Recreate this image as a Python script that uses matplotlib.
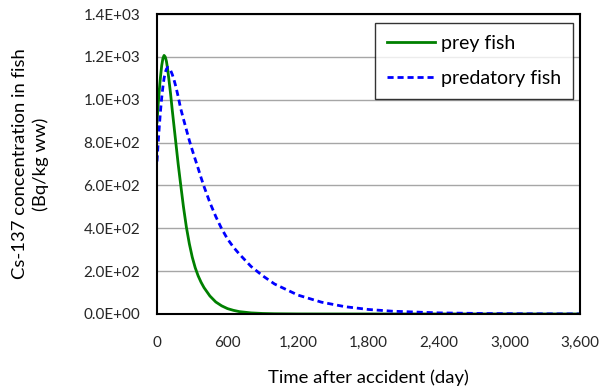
import matplotlib
matplotlib.use("Agg")
import matplotlib.pyplot as plt
from matplotlib.ticker import FuncFormatter, MultipleLocator

# data (day, Bq/kg ww)
days = [0, 10, 20, 30, 40, 50, 60, 70, 80, 90, 100, 115, 130, 145, 160, 180,
        200, 225, 250, 275, 300, 325, 350, 375, 400, 450, 500, 550, 600, 650,
        700, 800, 900, 1000, 1200, 1400, 1600, 1800, 2000, 2400, 2800, 3200,
        3600]
prey_fish = [896, 980, 1050, 1110, 1160, 1193, 1207, 1200, 1180, 1145, 1100,
             1030, 950, 875, 800, 700, 610, 500, 405, 328, 265, 216, 178, 148,
             123, 84, 56, 38, 25, 17, 11, 5, 2.3, 1, 0.2, 0.05, 0, 0, 0, 0, 0,
             0, 0]
predatory_fish = [712, 800, 880, 950, 1010, 1060, 1100, 1127, 1143, 1151, 1150,
                  1138, 1118, 1092, 1062, 1015, 962, 910, 860, 810, 765, 722,
                  680, 636, 595, 520, 455, 398, 350, 312, 280, 222, 178, 140,
                  88, 55, 34, 21, 13, 5, 2, 0.8, 0.3]

plt.rcParams['font.family'] = ['Lato', 'DejaVu Sans']

fig = plt.figure(figsize=(6, 3.91), dpi=100)
ax = fig.add_axes([0.2617, 0.197, 0.705, 0.767])

ax.plot(days, prey_fish, color='#008000', lw=2, label='prey fish')
ax.plot(days, predatory_fish, color='#0000ff', lw=2, ls=(0, (2.2, 1.4)),
        label='predatory fish')

ax.set_xlim(0, 3600)
ax.set_ylim(0, 1400)
ax.xaxis.set_major_locator(MultipleLocator(600))
ax.yaxis.set_major_locator(MultipleLocator(200))
ax.xaxis.set_major_formatter(FuncFormatter(lambda v, p: f"{v:,.0f}"))
ax.yaxis.set_major_formatter(FuncFormatter(lambda v, p: f"{v:.1E}"))
ax.tick_params(length=0, labelsize=11, labelcolor='#262626')
ax.tick_params(axis='y', pad=12)
ax.tick_params(axis='x', pad=16)

ax.grid(axis='y', color='#a6a6a6', lw=1)
ax.set_axisbelow(True)
for s in ax.spines.values():
    s.set_color('black')
    s.set_linewidth(1.5)

ax.set_xlabel('Time after accident (day)', fontsize=13.3, labelpad=14)
ax.set_ylabel('Cs-137 concentration in fish\n(Bq/kg ww)', fontsize=13.3,
              labelpad=25, linespacing=1.35)

leg = ax.legend(loc='upper right', fontsize=14, frameon=True, fancybox=False,
                handlelength=2.5, borderpad=0.6, labelspacing=0.95,
                handletextpad=0.3, borderaxespad=0,
                bbox_to_anchor=(0.983, 0.97))
leg.get_frame().set_edgecolor('black')
leg.get_frame().set_linewidth(1)

fig.savefig("out.png", dpi=100)
